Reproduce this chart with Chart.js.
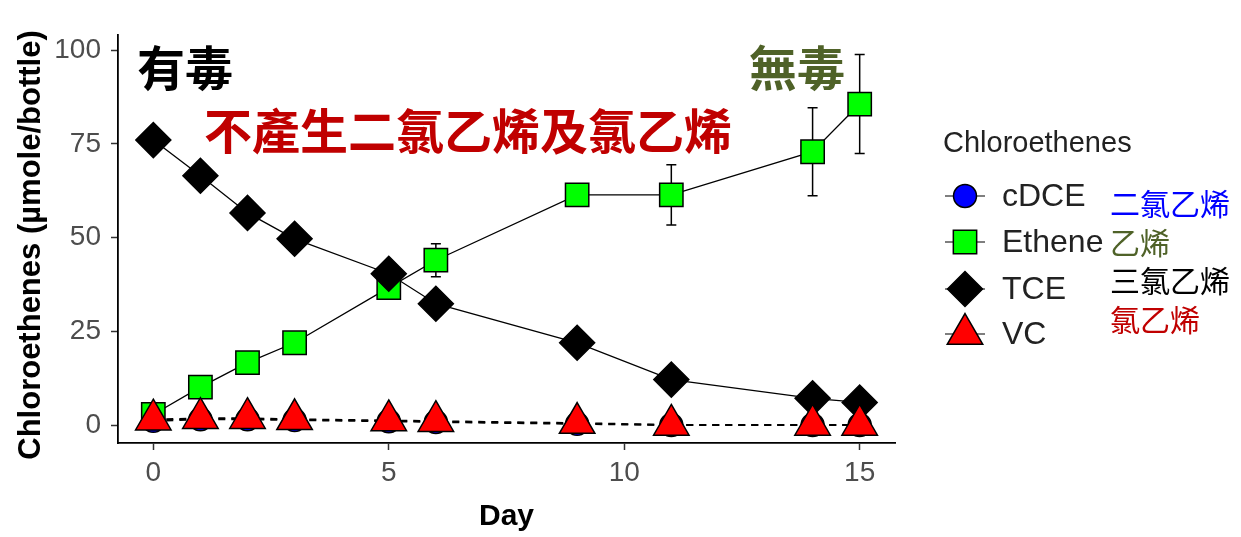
<!DOCTYPE html>
<html>
<head>
<meta charset="utf-8">
<script src="https://cdn.jsdelivr.net/npm/chart.js@4.4.0/dist/chart.umd.min.js"></script>
<style>
  html, body { margin: 0; padding: 0; background: #fff; }
  #wrap { width: 1241px; height: 537px; }
</style>
</head>
<body>
<div id="wrap"><canvas id="chart" width="1241" height="537"></canvas></div>
<script>
// data
const days = [0, 1, 2, 3, 5, 6, 9, 11, 14, 15];
const cdce = [1.2, 1.6, 1.6, 1.4, 1.1, 0.9, 0.4, 0.1, 0.1, 0.1];
const ethene = [2.9, 10.2, 16.7, 22.0, 36.7, 44.0, 61.4, 61.4, 72.9, 85.6];
const etheneSd = [0, 0, 0, 0, 1.0, 4.4, 1.0, 8.0, 11.7, 13.2];
const tce = [76.0, 66.5, 56.6, 49.7, 40.4, 32.4, 22.0, 12.2, 7.2, 6.1];
const tceSd = [0, 1.0, 3.2, 0.5, 0.5, 0.5, 0.5, 0.5, 0.5, 0.5];
const vc = [1.5, 1.9, 1.9, 1.6, 1.3, 1.1, 0.6, 0.1, 0.1, 0.1];
const xTicks = [0, 5, 10, 15];
const yTicks = [0, 25, 50, 75, 100];
const seriesNames = ['cDCE', 'Ethene', 'TCE', 'VC'];
const seriesZh = ['二氯乙烯', '乙烯', '三氯乙烯', '氯乙烯'];

const zhFont = '"Noto Sans CJK TC", "Noto Sans CJK SC", sans-serif';
const latFont = 'Arial, "Liberation Sans", sans-serif';

const pts = arr => days.map((d, i) => ({ x: d, y: arr[i] }));

const styles = [
  { pointStyle: 'circle', radius: 11.5, bg: '#0000ff', dash: [7, 6], lw: 2 },
  { pointStyle: 'rect', radius: 16.5, bg: '#00ff00', dash: [], lw: 1.3 },
  { pointStyle: 'rectRot', radius: 17.5, bg: '#000000', dash: [], lw: 1.3 },
  { pointStyle: 'triangle', radius: 20.5, bg: '#ff0000', dash: [7, 6], lw: 2 }
];
const values = [cdce, ethene, tce, vc];

const datasets = [];
values.forEach((v, i) => {
  // line layer
  datasets.push({
    label: seriesNames[i] + ' line',
    data: pts(v),
    borderColor: '#000',
    borderWidth: styles[i].lw,
    borderDash: styles[i].dash,
    pointRadius: 0,
    showLine: true,
    fill: false,
    order: 20 + i
  });
});
values.forEach((v, i) => {
  // point layer, VC on top
  datasets.push({
    label: seriesNames[i],
    data: pts(v),
    showLine: false,
    pointStyle: styles[i].pointStyle,
    pointRadius: styles[i].radius,
    pointHoverRadius: styles[i].radius,
    pointBackgroundColor: styles[i].bg,
    pointBorderColor: '#000',
    pointBorderWidth: 1.5,
    order: 4 - i
  });
});

const errorBars = {
  id: 'errorBars',
  beforeDatasetsDraw(chart) {
    const { ctx, scales: { x, y } } = chart;
    ctx.save();
    ctx.strokeStyle = '#000';
    ctx.lineWidth = 1.5;
    [[ethene, etheneSd], [tce, tceSd]].forEach(([vals, sd]) => {
      days.forEach((d, i) => {
        if (!sd[i]) return;
        const px = x.getPixelForValue(d);
        const top = y.getPixelForValue(vals[i] + sd[i]);
        const bot = y.getPixelForValue(vals[i] - sd[i]);
        ctx.beginPath();
        ctx.moveTo(px, top); ctx.lineTo(px, bot);
        ctx.moveTo(px - 5, top); ctx.lineTo(px + 5, top);
        ctx.moveTo(px - 5, bot); ctx.lineTo(px + 5, bot);
        ctx.stroke();
      });
    });
    ctx.restore();
  }
};

function marker(ctx, st, x, y) {
  ctx.fillStyle = st.bg;
  ctx.strokeStyle = '#000';
  ctx.lineWidth = 1.5;
  if (Chart.helpers && Chart.helpers.drawPoint) {
    Chart.helpers.drawPoint(ctx, { pointStyle: st.pointStyle, radius: st.radius, borderWidth: 1.5, rotation: 0 }, x, y);
  } else {
    ctx.beginPath();
    ctx.arc(x, y, st.radius * 0.8, 0, Math.PI * 2);
    ctx.fill(); ctx.stroke();
  }
}

const labelsPlugin = {
  id: 'labels',
  afterDraw(chart) {
    const ctx = chart.ctx;
    ctx.save();
    // y title, drawn by hand so it sits where the original has it
    ctx.save();
    ctx.translate(31, 245);
    ctx.rotate(-Math.PI / 2);
    ctx.textAlign = 'center';
    ctx.textBaseline = 'middle';
    ctx.fillStyle = '#000';
    ctx.font = 'bold 31px ' + latFont;
    ctx.fillText('Chloroethenes (µmole/bottle)', 0, 0);
    ctx.restore();
    // legend
    ctx.textBaseline = 'middle';
    ctx.textAlign = 'left';
    ctx.fillStyle = '#222';
    ctx.font = '29px ' + latFont;
    ctx.fillText('Chloroethenes', 943, 144);
    const rowY = [196, 242, 289, 334];
    const zhY = [204, 243, 281, 320];
    const zhCol = ['#0000ff', '#4f6228', '#000000', '#c00000'];
    seriesNames.forEach((name, i) => {
      ctx.strokeStyle = '#000';
      ctx.lineWidth = 1.2;
      ctx.setLineDash([]);
      ctx.beginPath();
      ctx.moveTo(945, rowY[i]); ctx.lineTo(985, rowY[i]);
      ctx.stroke();
      marker(ctx, styles[i], 965, rowY[i]);
      ctx.fillStyle = '#222';
      ctx.font = '32px ' + latFont;
      ctx.fillText(name, 1002, rowY[i] + 1);
      ctx.fillStyle = zhCol[i];
      ctx.font = '30px ' + zhFont;
      ctx.fillText(seriesZh[i], 1110, zhY[i]);
    });
    // annotations
    ctx.font = 'bold 48px ' + zhFont;
    ctx.fillStyle = '#000';
    ctx.fillText('有毒', 137, 68);
    ctx.fillStyle = '#4f6228';
    ctx.fillText('無毒', 749, 68);
    ctx.fillStyle = '#c00000';
    ctx.fillText('不產生二氯乙烯及氯乙烯', 204, 131);
    ctx.restore();
  }
};

new Chart(document.getElementById('chart'), {
  type: 'scatter',
  data: { datasets: datasets },
  options: {
    responsive: false,
    animation: false,
    layout: { padding: { top: 35, right: 346, left: 0, bottom: 0 } },
    plugins: { legend: { display: false }, tooltip: { enabled: false } },
    scales: {
      x: {
        type: 'linear',
        min: -0.75,
        max: 15.75,
        afterFit(s) { s.height = 94; },
        afterBuildTicks(s) { s.ticks = xTicks.map(v => ({ value: v })); },
        grid: { drawOnChartArea: false, drawTicks: true, tickLength: 7, tickColor: '#333', tickWidth: 1.5 },
        border: { display: true, color: '#000', width: 1.8 },
        ticks: { color: '#4d4d4d', font: { size: 28, family: latFont }, padding: 6 },
        title: { display: true, text: 'Day', color: '#000', font: { size: 30, weight: 'bold', family: latFont }, padding: { top: 0, bottom: 2 } }
      },
      y: {
        min: -4.7,
        max: 104,
        afterFit(s) { s.width = 118; },
        afterBuildTicks(s) { s.ticks = yTicks.map(v => ({ value: v })); },
        grid: { drawOnChartArea: false, drawTicks: true, tickLength: 7, tickColor: '#333', tickWidth: 1.5 },
        border: { display: true, color: '#000', width: 1.8 },
        ticks: { color: '#4d4d4d', font: { size: 28, family: latFont }, padding: 10 },
        title: { display: false }
      }
    }
  },
  plugins: [errorBars, labelsPlugin]
});
</script>
</body>
</html>
